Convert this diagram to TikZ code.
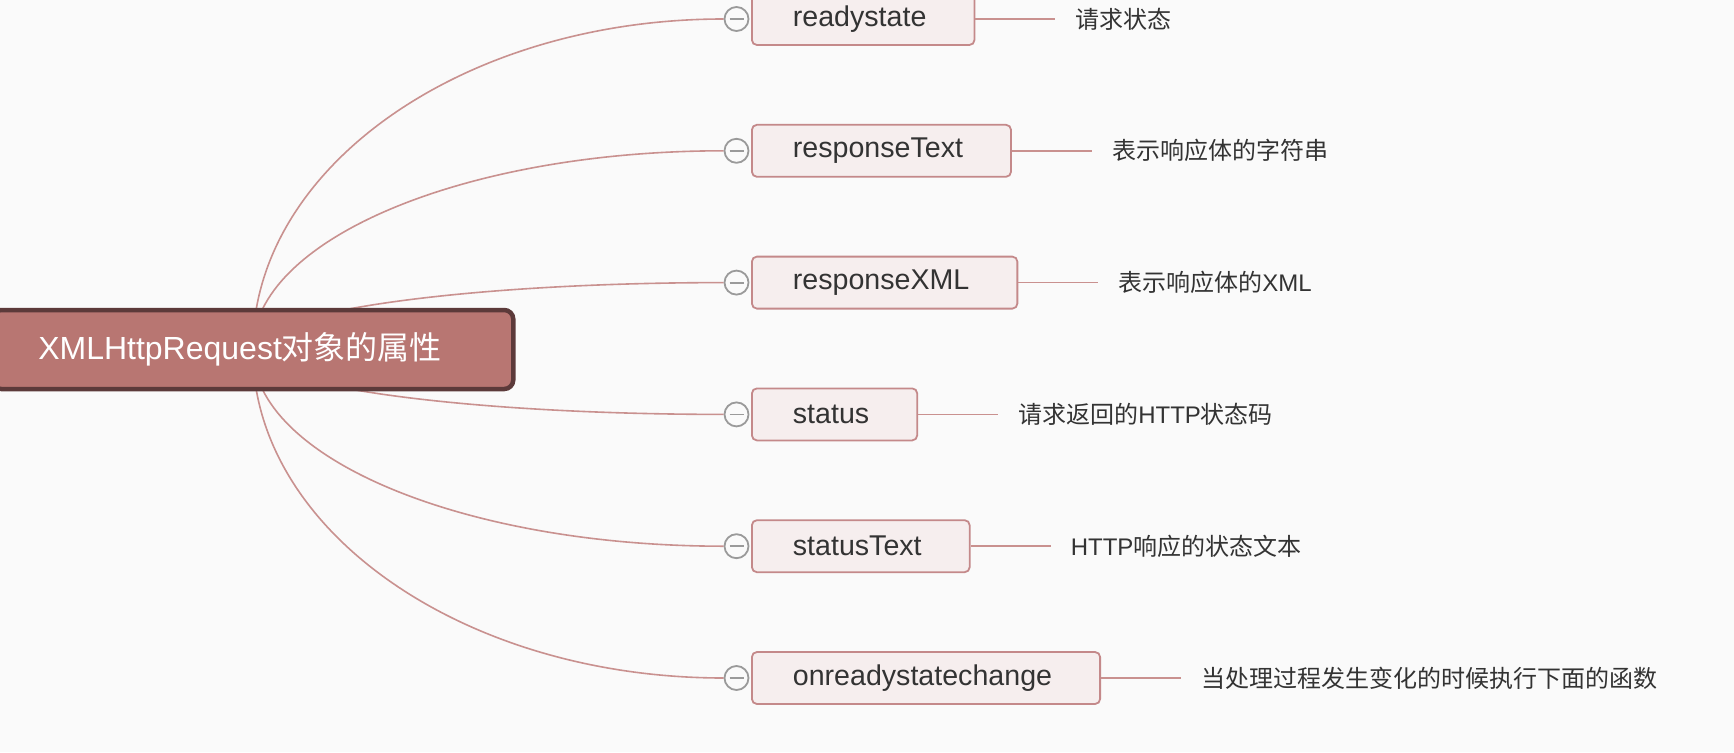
\documentclass[tikz,border=0pt]{standalone}
\usepackage{fontspec}
\setmainfont{Liberation Sans}
\newfontfamily\cjk{Noto Sans CJK SC}
\usetikzlibrary{backgrounds,calc}
\definecolor{bg}{HTML}{FAFAFA}
\definecolor{rootfill}{HTML}{B87672}
\definecolor{rootdraw}{HTML}{5C3A3A}
\definecolor{branch}{HTML}{C9918F}
\definecolor{boxfill}{HTML}{F6EEEE}
\definecolor{boxdraw}{HTML}{C4898A}
\definecolor{knob}{HTML}{9A9A9A}
\definecolor{labeltext}{HTML}{333333}
\begin{document}
\begin{tikzpicture}[x=1pt,y=-1pt,
  rootbox/.style={draw=rootdraw, line width=4.5pt, fill=rootfill, rounded corners=9pt,
    text=white, font=\fontsize{32}{38}\selectfont, minimum height=79pt,
    inner xsep=46pt, text width=429pt, align=left, anchor=west},
  topic/.style={draw=boxdraw, line width=1.8pt, fill=boxfill, rounded corners=5pt,
    text=labeltext, font=\fontsize{28.6}{34}\selectfont, minimum height=52pt,
    inner xsep=48pt, anchor=west},
  knobnode/.style={circle, draw=knob, line width=1.8pt, fill=bg, minimum size=24pt, inner sep=0pt,
    path picture={\draw[knob, line width=1.8pt] ([xshift=5pt]path picture bounding box.west) -- ([xshift=-5pt]path picture bounding box.east);}},
  note/.style={text=labeltext, font=\fontsize{24}{29}\selectfont, anchor=west, inner sep=0pt},
  branchline/.style={draw=branch, line width=1.6pt},
]
\useasboundingbox (0,0) rectangle (1734,752);

\node[rootbox] (root) at (-10,349.5) {XMLHttpRequest{\cjk 对象的属性}};

\foreach \i/\yy/\txt/\lab in {
  1/19/readystate/{\cjk 请求状态},
  2/150.8/responseText/{\cjk 表示响应体的字符串},
  3/282.6/responseXML/{{\cjk 表示响应体的}XML},
  4/414.4/status/{{\cjk 请求返回的}HTTP{\cjk 状态码}},
  5/546.2/statusText/{HTTP{\cjk 响应的状态文本}},
  6/678/onreadystatechange/{\cjk 当处理过程发生变化的时候执行下面的函数}}{
  \node[topic] (t\i) at (751,\yy) {\hspace*{-7pt}\txt};
  \node[knobnode] (k\i) at (736.5,\yy) {};
  \path (t\i.east) ++(100,0) node[note] (n\i) {\lab};
  \draw[branchline] (t\i.east) -- ([xshift=-20pt]n\i.west);
}

\begin{scope}[on background layer]
  \fill[bg] (0,0) rectangle (1734,752);
  \foreach \i in {1,...,6}{
    \draw[branchline] (root.center) .. controls ($(root.center)!0.5523!(root.center |- k\i.west)$)
      and ($(k\i.west)!0.5523!(root.center |- k\i.west)$) .. (k\i.west);
  }
\end{scope}
\end{tikzpicture}
\end{document}
